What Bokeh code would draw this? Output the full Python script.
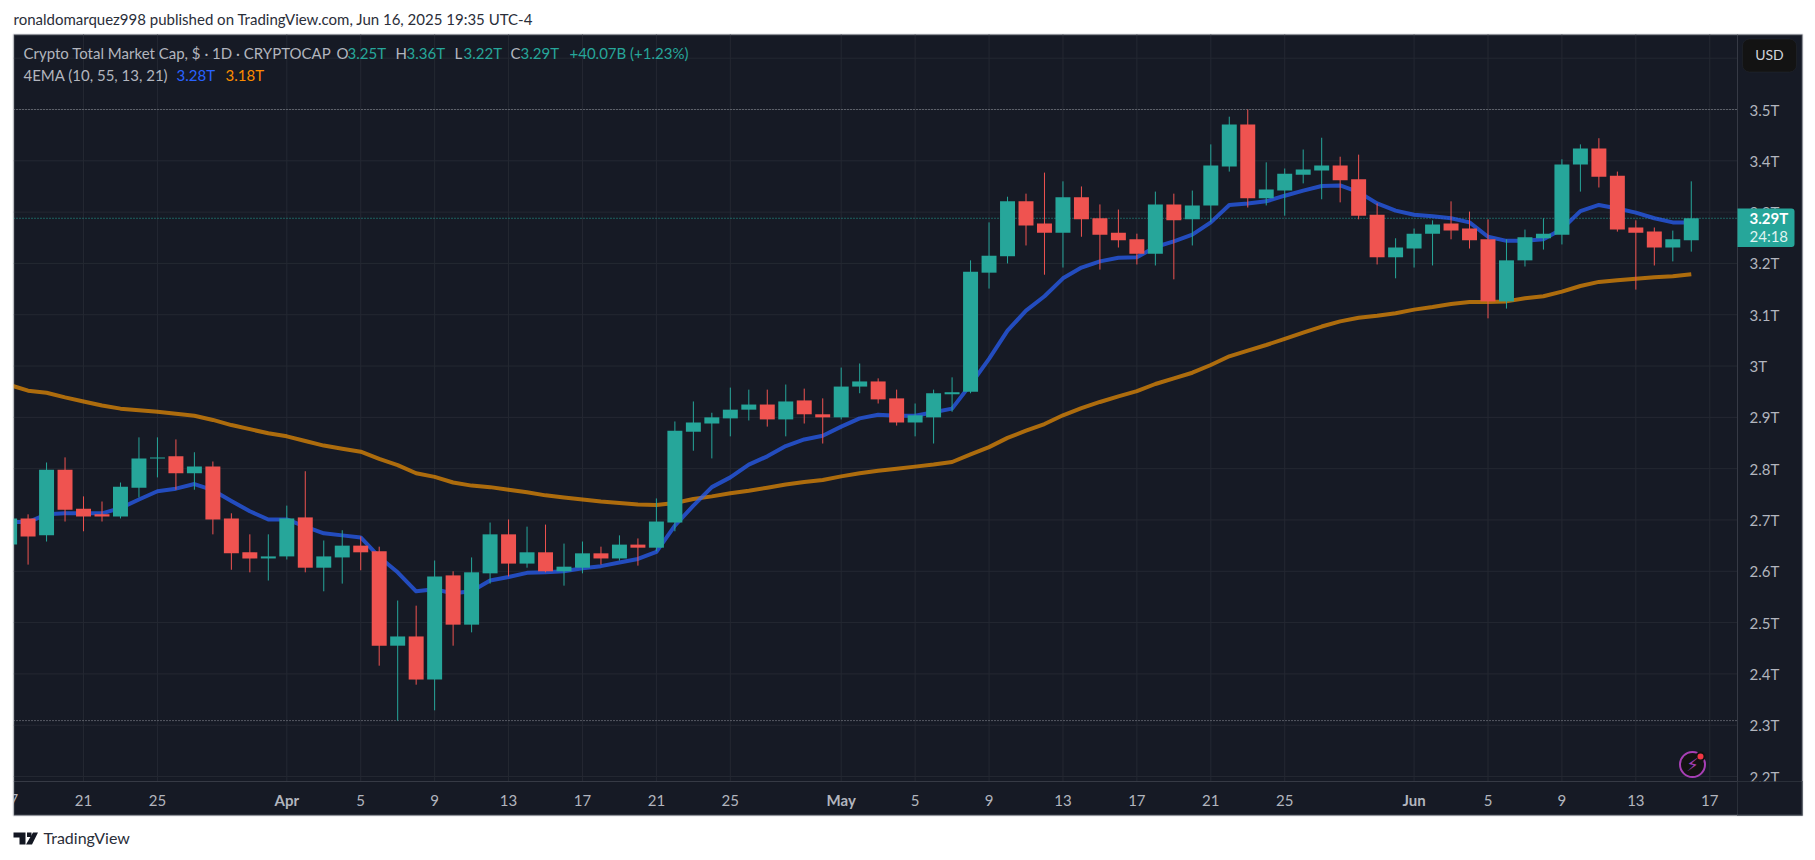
# Crypto total market cap, daily candles with two EMA lines
from bokeh.plotting import figure
from bokeh.embed import file_html
from bokeh.resources import INLINE
from bokeh.core.properties import value
from bokeh.models import (
    BoxAnnotation,
    ColumnDataSource,
    FixedTicker,
    Label,
    LinearAxis,
    PolyAnnotation,
)
import pandas as pd

# Daily values in trillions
dates = pd.date_range("2025-03-17", "2025-06-16")

opens = [
    2.652, 2.703, 2.670, 2.798, 2.722, 2.711, 2.707, 2.763, 2.820, 2.824, 2.791, 2.804, 2.703, 2.637, 2.625,
    2.629, 2.705, 2.607, 2.627, 2.650, 2.639, 2.455, 2.473, 2.389, 2.592, 2.496, 2.596, 2.672, 2.615, 2.637,
    2.600, 2.607, 2.635, 2.625, 2.652, 2.646, 2.695, 2.872, 2.888, 2.898, 2.915, 2.925, 2.896, 2.933, 2.906,
    2.900, 2.960, 2.970, 2.937, 2.890, 2.900, 2.945, 2.950, 3.182, 3.214, 3.321, 3.278, 3.260, 3.329, 3.288,
    3.260, 3.247, 3.219, 3.315, 3.286, 3.313, 3.389, 3.471, 3.327, 3.342, 3.373, 3.381, 3.391, 3.364, 3.295, 3.212,
    3.229, 3.258, 3.278, 3.268, 3.247, 3.126, 3.206, 3.249, 3.256, 3.393, 3.424, 3.371, 3.270, 3.262, 3.231, 3.245,
]
closes = [
    2.703, 2.668, 2.798, 2.720, 2.707, 2.707, 2.765, 2.820, 2.822, 2.791, 2.804, 2.701, 2.635, 2.625, 2.629,
    2.703, 2.607, 2.629, 2.650, 2.637, 2.455, 2.473, 2.389, 2.590, 2.496, 2.598, 2.672, 2.615, 2.637, 2.600,
    2.609, 2.635, 2.625, 2.652, 2.646, 2.697, 2.874, 2.890, 2.900, 2.915, 2.925, 2.896, 2.931, 2.906, 2.900,
    2.960, 2.970, 2.935, 2.890, 2.904, 2.947, 2.949, 3.184, 3.215, 3.321, 3.274, 3.260, 3.329, 3.286, 3.256,
    3.245, 3.219, 3.315, 3.284, 3.313, 3.391, 3.471, 3.327, 3.344, 3.375, 3.383, 3.391, 3.362, 3.293, 3.212, 3.231,
    3.258, 3.276, 3.264, 3.245, 3.126, 3.206, 3.251, 3.258, 3.393, 3.424, 3.369, 3.266, 3.260, 3.231, 3.247, 3.288,
]
highs = [
    2.712, 2.711, 2.812, 2.822, 2.746, 2.736, 2.773, 2.861, 2.861, 2.857, 2.832, 2.814, 2.713, 2.672, 2.672,
    2.728, 2.795, 2.660, 2.680, 2.668, 2.648, 2.543, 2.533, 2.621, 2.600, 2.627, 2.695, 2.701, 2.687, 2.691,
    2.654, 2.658, 2.648, 2.670, 2.664, 2.742, 2.892, 2.931, 2.909, 2.958, 2.954, 2.954, 2.964, 2.956, 2.937,
    2.997, 3.005, 2.976, 2.954, 2.927, 2.954, 2.978, 3.206, 3.280, 3.330, 3.336, 3.377, 3.360, 3.350, 3.315,
    3.305, 3.258, 3.340, 3.336, 3.342, 3.432, 3.486, 3.500, 3.397, 3.385, 3.422, 3.445, 3.408, 3.412, 3.317, 3.249,
    3.268, 3.284, 3.321, 3.301, 3.286, 3.247, 3.266, 3.288, 3.403, 3.432, 3.444, 3.379, 3.284, 3.270, 3.264, 3.360,
]
lows = [
    2.640, 2.613, 2.658, 2.697, 2.678, 2.697, 2.703, 2.744, 2.783, 2.759, 2.759, 2.672, 2.603, 2.598, 2.582,
    2.623, 2.598, 2.561, 2.576, 2.602, 2.416, 2.309, 2.379, 2.329, 2.455, 2.481, 2.576, 2.590, 2.607, 2.598,
    2.572, 2.596, 2.613, 2.621, 2.611, 2.639, 2.678, 2.835, 2.820, 2.863, 2.894, 2.882, 2.863, 2.888, 2.849,
    2.896, 2.947, 2.927, 2.884, 2.863, 2.849, 2.911, 2.947, 3.151, 3.200, 3.235, 3.178, 3.192, 3.252, 3.188,
    3.231, 3.198, 3.196, 3.169, 3.235, 3.280, 3.379, 3.309, 3.313, 3.293, 3.356, 3.325, 3.319, 3.286, 3.198, 3.171,
    3.192, 3.196, 3.247, 3.229, 3.093, 3.112, 3.194, 3.227, 3.237, 3.340, 3.348, 3.262, 3.149, 3.196, 3.204, 3.223,
]
ema_fast = [
    2.696, 2.696, 2.711, 2.713, 2.713, 2.713, 2.723, 2.740, 2.756, 2.761, 2.770, 2.758, 2.737, 2.717, 2.701,
    2.701, 2.687, 2.674, 2.670, 2.666, 2.628, 2.598, 2.561, 2.565, 2.557, 2.561, 2.582, 2.589, 2.597, 2.598,
    2.600, 2.606, 2.610, 2.617, 2.624, 2.638, 2.689, 2.728, 2.764, 2.783, 2.808, 2.824, 2.844, 2.857, 2.864,
    2.882, 2.898, 2.905, 2.903, 2.903, 2.910, 2.917, 2.964, 3.014, 3.069, 3.108, 3.136, 3.171, 3.192, 3.204,
    3.211, 3.212, 3.232, 3.243, 3.256, 3.280, 3.314, 3.317, 3.321, 3.332, 3.342, 3.351, 3.352, 3.339, 3.317, 3.303,
    3.295, 3.292, 3.288, 3.280, 3.252, 3.244, 3.244, 3.247, 3.267, 3.302, 3.314, 3.307, 3.299, 3.288, 3.280, 3.280,
]
ema_slow = [
    2.963, 2.952, 2.948, 2.939, 2.931, 2.923, 2.917, 2.914, 2.911, 2.907, 2.903, 2.895, 2.885, 2.877, 2.869,
    2.863, 2.854, 2.845, 2.839, 2.833, 2.819, 2.807, 2.791, 2.784, 2.773, 2.767, 2.764, 2.759, 2.754, 2.748,
    2.744, 2.740, 2.736, 2.733, 2.730, 2.729, 2.733, 2.741, 2.746, 2.752, 2.757, 2.763, 2.769, 2.774, 2.778,
    2.785, 2.791, 2.796, 2.800, 2.804, 2.808, 2.813, 2.828, 2.842, 2.860, 2.874, 2.887, 2.904, 2.918, 2.930,
    2.941, 2.951, 2.965, 2.976, 2.987, 3.002, 3.019, 3.030, 3.041, 3.053, 3.065, 3.077, 3.087, 3.094, 3.098, 3.103,
    3.110, 3.115, 3.121, 3.125, 3.125, 3.126, 3.132, 3.136, 3.145, 3.156, 3.164, 3.167, 3.170, 3.173, 3.175, 3.179,
]

price_ticks = [2.2, 2.3, 2.4, 2.5, 2.6, 2.7, 2.8, 2.9, 3.0, 3.1, 3.2, 3.3, 3.4, 3.5]
price_labels = ["2.2T", "2.3T", "2.4T", "2.5T", "2.6T", "2.7T", "2.8T", "2.9T", "3T", "3.1T", "3.2T", "3.3T", "3.4T", "3.5T"]
day_ticks = ["03-21", "03-25", "04-05", "04-09", "04-13", "04-17", "04-21", "04-25", "05-05", "05-09", "05-13",
             "05-17", "05-21", "05-25", "06-05", "06-09", "06-13", "06-17"]
day_labels = ["21", "25", "5", "9", "13", "17", "21", "25", "5", "9", "13", "17", "21", "25", "5", "9", "13", "17"]
month_ticks = ["04-01", "05-01", "06-01"]
month_labels = ["Apr", "May", "Jun"]
high_line = 3.5
low_line = 2.309
last_price = 3.288

BG = "#161a25"
GRID = "#242832"
EDGE = "#363a45"
GREEN = "#26a69a"
RED = "#ef5350"
TEXT = "#b2b5be"
FONT = "Lato"


# where a picture pixel falls in chart units, used for the chart furniture only
def day_at(px):
    return (px - 286.3) / 18.48


def val_at(py):
    return 3.5 - (py - 109) / 513.1


def day_of(md):
    return (pd.Timestamp("2025-" + md) - pd.Timestamp("2025-04-01")).days


days = [(d - pd.Timestamp("2025-04-01")).days for d in dates]
colors = [GREEN if c >= o else RED for o, c in zip(opens, closes)]
source = ColumnDataSource(dict(
    day=days, top=[max(o, c) for o, c in zip(opens, closes)], bottom=[min(o, c) for o, c in zip(opens, closes)],
    high=highs, low=lows, color=colors, fast=ema_fast, slow=ema_slow,
))

# the frame fills the page, the dark chart area is a box inside it
p = figure(
    width=1815,
    height=860,
    x_range=(day_at(0), day_at(1815)),
    y_range=(val_at(860), val_at(0)),
    x_axis_type=None,
    y_axis_type=None,
    toolbar_location=None,
    output_backend="svg",
    min_border=0,
    background_fill_color="white",
    border_fill_color="white",
    outline_line_color=None,
)
p.grid.visible = False

chart_left = day_at(13)
chart_right = day_at(1802)
chart_top = val_at(34)
chart_bottom = val_at(815)
panel_x = day_at(1737)
panel_y = val_at(781)

p.add_layout(BoxAnnotation(left=chart_left, right=chart_right, top=chart_top, bottom=chart_bottom,
                           fill_color=BG, fill_alpha=1, line_color=None, level="underlay"))

# grid stops at the two axis panels
grid_days = [day_of(m) for m in day_ticks + month_ticks]
grid_vals = price_ticks + [3.6]
p.segment(x0=grid_days, x1=grid_days, y0=[panel_y] * len(grid_days), y1=[chart_top] * len(grid_days),
          line_color=GRID, line_width=1)
p.segment(x0=[chart_left] * len(grid_vals), x1=[panel_x] * len(grid_vals), y0=grid_vals, y1=grid_vals,
          line_color=GRID, line_width=1)

# high, low and last price lines
p.segment(x0=[chart_left] * 2, x1=[panel_x] * 2, y0=[high_line, low_line], y1=[high_line, low_line],
          line_color="#9598a1", line_width=1, line_dash=value([1, 2]))
p.segment(x0=[chart_left], x1=[panel_x], y0=[last_price], y1=[last_price],
          line_color=GREEN, line_width=1, line_dash=value([1, 2]))

# EMAs sit under the candles
p.line("day", "slow", source=source, line_color="#ff9800", line_alpha=0.65, line_width=4, line_join="round")
p.line("day", "fast", source=source, line_color="#2962ff", line_alpha=0.7, line_width=4, line_join="round")

p.segment("day", "low", "day", "high", source=source, line_color="color", line_width=1)
p.vbar(x="day", top="top", bottom="bottom", width=0.81, source=source, fill_color="color", line_color=None)

# first tick label is cut by the chart edge on the left
p.text(x=[day_of("03-17")], y=[val_at(799)], text=["17"], text_color=TEXT, text_font=value(FONT),
       text_font_size="15px", text_align="center", text_baseline="middle")

y_axis = LinearAxis(
    fixed_location=panel_x,
    bounds=(chart_bottom, chart_top),
    ticker=FixedTicker(ticks=price_ticks),
    major_label_overrides=dict(zip(price_ticks, price_labels)),
    major_tick_line_color=None,
    minor_tick_line_color=None,
    axis_line_color=EDGE,
    major_label_text_color=TEXT,
    major_label_text_font=FONT,
    major_label_text_font_size="15px",
    major_label_standoff=6,
)
p.add_layout(y_axis, "right")

x_axis = LinearAxis(
    fixed_location=panel_y,
    bounds=(chart_left, chart_right),
    ticker=FixedTicker(ticks=[day_of(m) for m in day_ticks]),
    major_label_overrides=dict(zip([day_of(m) for m in day_ticks], day_labels)),
    major_tick_line_color=None,
    minor_tick_line_color=None,
    axis_line_color=EDGE,
    major_label_text_color=TEXT,
    major_label_text_font=FONT,
    major_label_text_font_size="15px",
    major_label_standoff=7,
)
p.add_layout(x_axis, "below")

month_axis = LinearAxis(
    fixed_location=panel_y,
    bounds=(chart_left, chart_right),
    ticker=FixedTicker(ticks=[day_of(m) for m in month_ticks]),
    major_label_overrides=dict(zip([day_of(m) for m in month_ticks], month_labels)),
    major_tick_line_color=None,
    minor_tick_line_color=None,
    axis_line_color=None,
    major_label_text_color=TEXT,
    major_label_text_font=FONT,
    major_label_text_font_size="15px",
    major_label_text_font_style="bold",
    major_label_standoff=3,
)
p.add_layout(month_axis, "below")

# white strip cuts the candles and lines at the chart's left edge
p.add_layout(BoxAnnotation(left=day_at(0), right=chart_left, top=val_at(0), bottom=val_at(860),
                           fill_color="white", fill_alpha=1, line_color=None))

# corner box hides the part of the 2.2T label below the time axis
p.add_layout(BoxAnnotation(left=panel_x, right=chart_right, top=panel_y, bottom=chart_bottom,
                           fill_color=BG, fill_alpha=1, line_color=EDGE, line_width=1))

# chart border
p.add_layout(BoxAnnotation(left=chart_left, right=chart_right, top=chart_top, bottom=chart_bottom,
                           fill_alpha=0, line_color="#a3a6af", line_width=2))

# price tag on the axis
p.add_layout(BoxAnnotation(left=panel_x, right=day_at(1794), top=val_at(208), bottom=val_at(246.5),
                           fill_color=GREEN, fill_alpha=1, line_color=None, border_radius=dict(
                               top_left=0, top_right=3, bottom_right=3, bottom_left=0)))

# USD button
p.add_layout(BoxAnnotation(left=day_at(1742), right=day_at(1796), top=val_at(38.5), bottom=val_at(71.5),
                           fill_color="#131313", fill_alpha=1, line_color="#33363f", line_width=1,
                           border_radius=7))

# flash icon
p.scatter(x=[day_at(1692)], y=[val_at(764)], marker="circle", size=25, fill_color="#131313",
          line_color="#a73fb5", line_width=2)
p.scatter(x=[day_at(1700)], y=[val_at(756)], marker="circle", size=8, fill_color="#f23645",
          line_color="#131313", line_width=2)

# TradingView mark in the footer, in page pixels
logo_parts = [
    ([13, 25, 25, 19, 19, 13], [832, 832, 844, 844, 837, 837]),
    ([26.5, 31, 31, 26.5], [832, 832, 836.5, 836.5]),
    ([32.5, 37.5, 31.5, 25.5], [832, 832, 844, 844]),
]
for xs, ys in logo_parts:
    p.add_layout(PolyAnnotation(xs=xs, ys=ys, xs_units="canvas", ys_units="canvas", fill_color="#131722",
                                fill_alpha=1, line_color=None))


def add_text(px, py, text, color=TEXT, size="15px", style="normal", font=FONT, align="left"):
    p.add_layout(Label(x=px, y=py, x_units="canvas", y_units="canvas", text=text, text_color=color, text_font=font,
                       text_font_size=size, text_font_style=style, text_align=align, text_baseline="middle"))


add_text(13, 18, "ronaldomarquez998 published on TradingView.com, Jun 16, 2025 19:35 UTC-4", color="#2a2e39")
add_text(43, 837, "TradingView", color="#2a2e39", size="16px")

add_text(23, 52, "Crypto Total Market Cap, $ · 1D · CRYPTOCAP")
add_text(336, 52, "O")
add_text(347, 52, "3.25T", color=GREEN)
add_text(395, 52, "H")
add_text(406, 52, "3.36T", color=GREEN)
add_text(454, 52, "L")
add_text(463, 52, "3.22T", color=GREEN)
add_text(510, 52, "C")
add_text(520, 52, "3.29T", color=GREEN)
add_text(569, 52, "+40.07B (+1.23%)", color=GREEN)
add_text(23, 74, "4EMA (10, 55, 13, 21)")
add_text(176, 74, "3.28T", color="#2962ff")
add_text(225, 74, "3.18T", color="#fb8c00")

add_text(1749, 217, "3.29T", color="white", style="bold")
add_text(1749, 235, "24:18", color="#dff3f1")
add_text(1769, 54, "USD", color="#d1d4dc", align="center", size="14px")
add_text(1692, 764, "⚡", color="#a73fb5", size="18px", font="DejaVu Sans", align="center")

open("out.html", "w").write(file_html(p, INLINE))
